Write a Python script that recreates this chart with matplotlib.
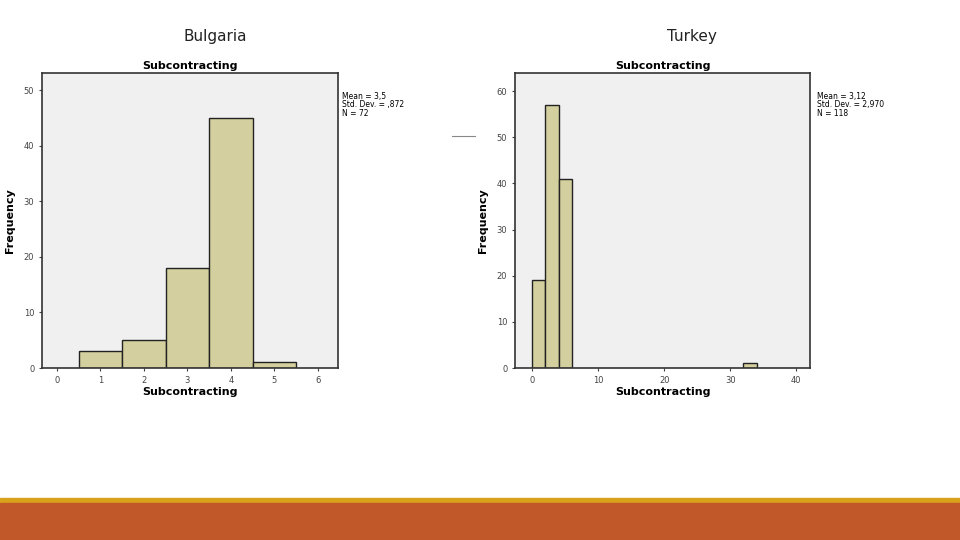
import matplotlib.pyplot as plt
from matplotlib.patches import Rectangle

bg_centers = [1, 2, 3, 4, 5]
bg_counts = [3, 5, 18, 45, 1]
tr_left = [0, 2, 4, 32]
tr_counts = [19, 57, 41, 1]
tr_width = 2

fill = '#d3cf9e'
panel = '#f0f0f0'

fig = plt.figure(figsize=(9.6, 5.4), dpi=100)
W, H = 960, 540

def add_ax(x0, y0, x1, y1):
    return fig.add_axes([x0 / W, 1 - y1 / H, (x1 - x0) / W, (y1 - y0) / H])

def style(ax):
    ax.set_facecolor(panel)
    for s in ax.spines.values():
        s.set_linewidth(1.2)
        s.set_color('#333333')
    ax.tick_params(labelsize=6, length=2, colors='#444444')
    ax.set_xlabel('Subcontracting', fontsize=8, fontweight='bold', labelpad=2)
    ax.set_ylabel('Frequency', fontsize=8, fontweight='bold', labelpad=6)
    ax.set_title('Subcontracting', fontsize=8, fontweight='bold', pad=3)

ax1 = add_ax(42, 73, 338, 368)
ax1.bar(bg_centers, bg_counts, width=1, color=fill, edgecolor='#222222', linewidth=1)
ax1.set_xlim(-0.34, 6.46)
ax1.set_ylim(0, 53.1)
ax1.set_xticks(range(0, 7))
ax1.set_yticks(range(0, 51, 10))
style(ax1)

ax2 = add_ax(515, 73, 810, 368)
ax2.bar(tr_left, tr_counts, width=tr_width, align='edge', color=fill, edgecolor='#222222', linewidth=1)
ax2.set_xlim(-2.6, 42.1)
ax2.set_ylim(0, 63.9)
ax2.set_xticks(range(0, 41, 10))
ax2.set_yticks(range(0, 61, 10))
style(ax2)

fig.text(342 / W, 1 - 92 / H, 'Mean = 3,5\nStd. Dev. = ,872\nN = 72', fontsize=5.5, va='top', linespacing=0.9)
fig.text(817 / W, 1 - 92 / H, 'Mean = 3,12\nStd. Dev. = 2,970\nN = 118', fontsize=5.5, va='top', linespacing=0.9)
fig.text(215 / W, 1 - 36 / H, 'Bulgaria', fontsize=11, ha='center', va='center', color='#222222')
fig.text(692 / W, 1 - 36 / H, 'Turkey', fontsize=11, ha='center', va='center', color='#222222')

fig.add_artist(plt.Line2D([452 / W, 475 / W], [1 - 136 / H] * 2, color='#888888', linewidth=0.8))
fig.add_artist(Rectangle((0, 1 - 503 / H), 1, 5 / H, color='#d9a21b', transform=fig.transFigure))
fig.add_artist(Rectangle((0, 0), 1, 37 / H, color='#c0582a', transform=fig.transFigure))

fig.savefig('out.png', dpi=100)
